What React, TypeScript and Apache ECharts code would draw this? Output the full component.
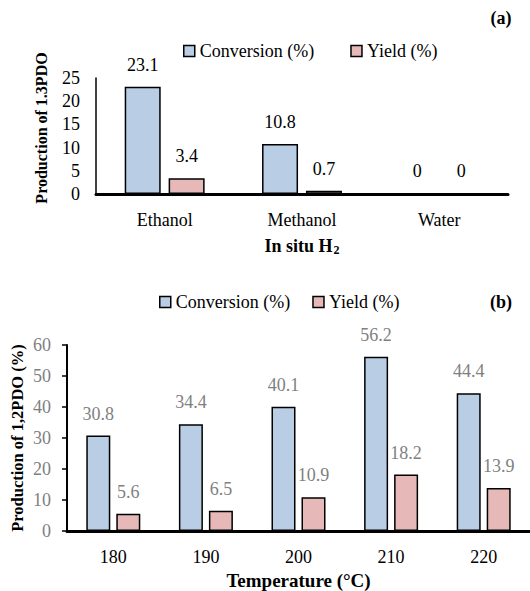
import React, { useEffect, useRef } from "react";
import * as echarts from "echarts";

const categoriesA = ["Ethanol", "Methanol", "Water"];
const conversionA = [23.1, 10.8, 0];
const yieldA = [3.4, 0.7, 0];

const categoriesB = ["180", "190", "200", "210", "220"];
const conversionB = [30.8, 34.4, 40.1, 56.2, 44.4];
const yieldB = [5.6, 6.5, 10.9, 18.2, 13.9];

const seriesNames = ["Conversion (%)", "Yield (%)"];
const FONT = "Liberation Serif, serif";
const CONV_COLOR = "#b9cde5";
const YIELD_COLOR = "#e6b9b8";
const GRAY = "#7f7f7f";

const txt = (size: number, color: string, weight: string = "normal") => ({
  fontFamily: FONT,
  fontSize: size,
  fontWeight: weight,
  fontStyle: "normal",
  color,
});

export default function App() {
  const ref = useRef<HTMLDivElement>(null);
  useEffect(() => {
    if (!ref.current) return;
    const chart = echarts.init(ref.current, undefined, { renderer: "svg" });
    const barItem = (color: string) => ({
      color,
      borderColor: "#000",
      borderWidth: 1.5,
    });
    const label = (color: string) => ({
      show: true,
      position: "top",
      distance: 13,
      ...txt(18, color),
    });
    const legendCommon = {
      icon: "rect",
      itemWidth: 11,
      itemHeight: 11,
      itemStyle: { borderColor: "#000", borderWidth: 1.5 },
      textStyle: txt(18, "#000"),
      data: seriesNames,
    };
    chart.setOption({
      animation: false,
      backgroundColor: "#fff",
      textStyle: { fontFamily: FONT },
      legend: [
        { ...legendCommon, left: 178, top: 37, itemGap: 36 },
        { ...legendCommon, left: 154, top: 288, itemGap: 22 },
      ],
      grid: [
        { left: 96, right: 22, top: 78, bottom: 397 },
        { left: 67, right: -4, top: 345, bottom: 60 },
      ],
      xAxis: [
        {
          type: "category",
          gridIndex: 0,
          data: categoriesA,
          axisLine: { lineStyle: { color: "#000", width: 3 } },
          axisTick: { show: false },
          axisLabel: { ...txt(18, "#000"), margin: 17 },
          name: "{b|In situ H}{s|2}",
          nameLocation: "middle",
          nameGap: 42,
          nameTextStyle: {
            rich: {
              b: txt(18, "#000", "bold"),
              s: { ...txt(12, "#000", "bold"), padding: [8, 0, 0, 1] },
            },
          },
        },
        {
          type: "category",
          gridIndex: 1,
          data: categoriesB,
          axisLine: { lineStyle: { color: "#000", width: 3 } },
          axisTick: { show: false },
          axisLabel: { ...txt(18, "#000"), margin: 17 },
          name: "Temperature (°C)",
          nameLocation: "middle",
          nameGap: 40,
          nameTextStyle: txt(19, "#000", "bold"),
        },
      ],
      yAxis: [
        {
          type: "value",
          gridIndex: 0,
          min: 0,
          max: 25,
          interval: 5,
          splitLine: { show: false },
          axisLine: { show: true, lineStyle: { color: "#000", width: 1.5 } },
          axisTick: { show: false },
          axisLabel: { ...txt(18, "#000"), margin: 16 },
        },
        {
          type: "value",
          gridIndex: 1,
          min: 0,
          max: 60,
          interval: 10,
          splitLine: { show: false },
          axisLine: { show: true, lineStyle: { color: "#000", width: 2 } },
          axisTick: { show: true, length: 5, lineStyle: { color: "#000", width: 1.5 } },
          axisLabel: { ...txt(18, GRAY), margin: 16 },
        },
      ],
      series: [
        {
          name: seriesNames[0],
          type: "bar",
          xAxisIndex: 0,
          yAxisIndex: 0,
          data: conversionA,
          barWidth: 36,
          barGap: "22%",
          itemStyle: barItem(CONV_COLOR),
          label: label("#000"),
        },
        {
          name: seriesNames[1],
          type: "bar",
          xAxisIndex: 0,
          yAxisIndex: 0,
          data: yieldA,
          barWidth: 36,
          barGap: "22%",
          itemStyle: barItem(YIELD_COLOR),
          label: label("#000"),
        },
        {
          name: seriesNames[0],
          type: "bar",
          xAxisIndex: 1,
          yAxisIndex: 1,
          data: conversionB,
          barWidth: 24,
          barGap: "25%",
          itemStyle: barItem(CONV_COLOR),
          label: label(GRAY),
        },
        {
          name: seriesNames[1],
          type: "bar",
          xAxisIndex: 1,
          yAxisIndex: 1,
          data: yieldB,
          barWidth: 24,
          barGap: "25%",
          itemStyle: barItem(YIELD_COLOR),
          label: label(GRAY),
        },
      ],
      graphic: [
        {
          type: "text",
          x: 501,
          y: 18,
          style: {
            text: "(a)",
            fontFamily: FONT,
            fontSize: 18,
            fontWeight: "bold",
            fill: "#000",
            align: "center",
            verticalAlign: "middle",
          },
        },
        {
          type: "text",
          x: 501,
          y: 302,
          style: {
            text: "(b)",
            fontFamily: FONT,
            fontSize: 18,
            fontWeight: "bold",
            fill: "#000",
            align: "center",
            verticalAlign: "middle",
          },
        },
        {
          type: "text",
          x: 41,
          y: 128,
          rotation: Math.PI / 2,
          style: {
            text: "Production of 1.3PDO",
            fontFamily: FONT,
            fontSize: 16,
            fontWeight: "bold",
            fill: "#000",
            align: "center",
            verticalAlign: "middle",
          },
        },
        {
          type: "text",
          x: 17,
          y: 438,
          rotation: Math.PI / 2,
          style: {
            text: "Production of 1,2PDO (%)",
            fontFamily: FONT,
            fontSize: 16.5,
            fontWeight: "bold",
            fill: "#000",
            align: "center",
            verticalAlign: "middle",
          },
        },
      ],
    });
    return () => chart.dispose();
  }, []);
  return (
    <div
      ref={ref}
      style={{ position: "fixed", left: 0, top: 0, width: 530, height: 591, background: "#fff" }}
    />
  );
}
